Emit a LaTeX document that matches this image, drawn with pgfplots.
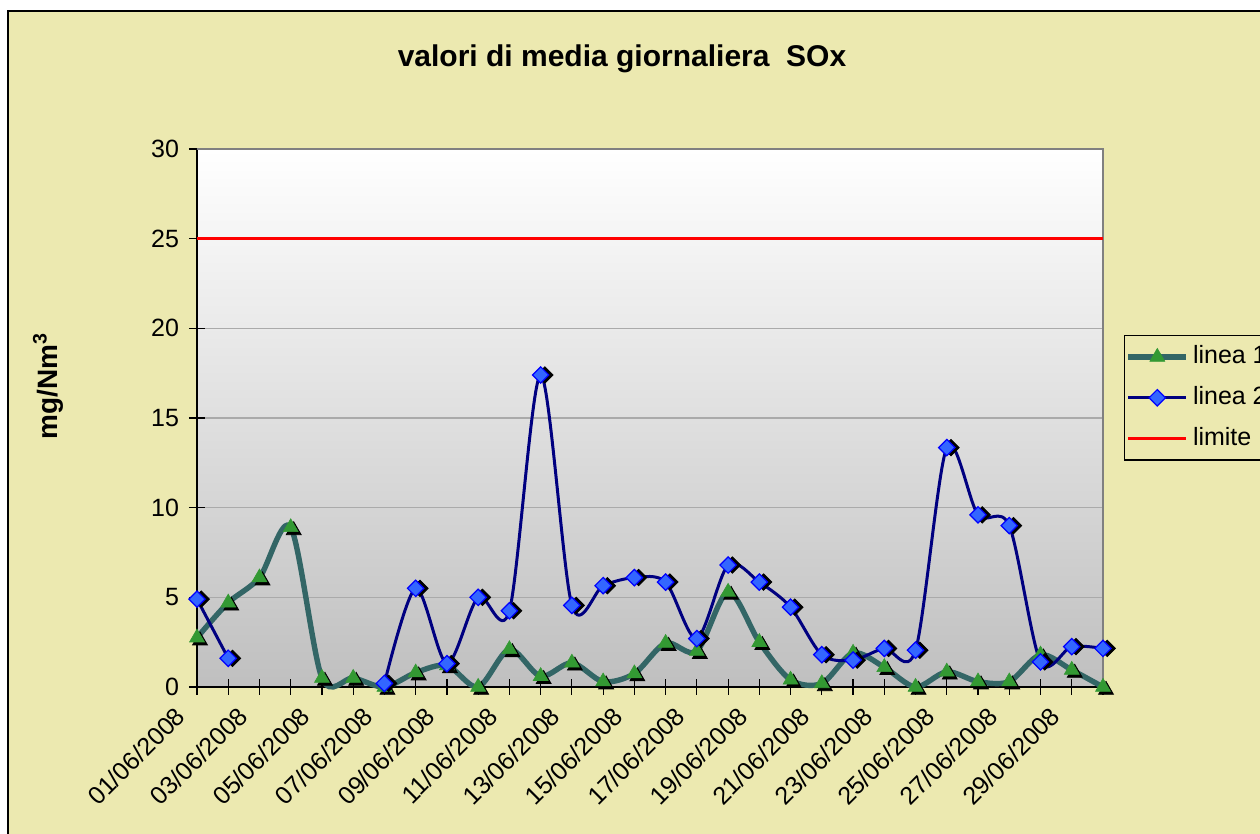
\documentclass[border=0pt]{standalone}
\usepackage{fontspec}
\setmainfont{Liberation Sans}
\usepackage{pgfplots}
\pgfplotsset{compat=1.18}
\definecolor{bgmid}{RGB}{255,255,200}
\definecolor{bgedge}{RGB}{236,233,176}
\definecolor{lineone}{RGB}{51,102,102}
\definecolor{markone}{RGB}{51,153,51}
\definecolor{linetwo}{RGB}{0,0,128}
\definecolor{marktwo}{RGB}{51,102,255}
\definecolor{gridc}{RGB}{170,170,170}
\begin{document}
\begin{tikzpicture}
\useasboundingbox (0,0) rectangle (630pt,417pt);
\clip (0,0) rectangle (630pt,417pt);
\shade[top color=bgedge, middle color=bgmid, bottom color=bgedge] (4pt,-3pt) rectangle (640pt,411.5pt);
\draw[black, line width=0.6pt] (4pt,-3pt) -- (4pt,411.5pt) -- (640pt,411.5pt);
\node[font=\fontsize{15}{18}\selectfont\bfseries] at (311pt,387.5pt) {valori di media giornaliera\ \ SOx};
\node[font=\fontsize{14}{16}\selectfont\bfseries, rotate=90] at (24pt,224pt) {mg/Nm\textsuperscript{3}};
\begin{axis}[
  at={(98.5pt,73.5pt)}, anchor=south west,
  scale only axis, width=453pt, height=269pt,
  xmin=1, xmax=30, ymin=0, ymax=30,
  axis lines=left, axis line style={-, black, line width=0.8pt},
  xtick={1,...,30},
  xticklabels={01/06/2008,,03/06/2008,,05/06/2008,,07/06/2008,,09/06/2008,,11/06/2008,,13/06/2008,,15/06/2008,,17/06/2008,,19/06/2008,,21/06/2008,,23/06/2008,,25/06/2008,,27/06/2008,,29/06/2008,},
  ytick={0,5,...,30},
  tick align=center, major tick length=8pt,
  tick style={black, line width=0.6pt},
  ymajorgrids, major grid style={gridc, line width=0.8pt},
  /pgf/number format/assume math mode=true,
  ticklabel style={font=\fontsize{12.5}{14}\selectfont},
  yticklabel style={xshift=-1.5pt},
  xticklabel style={xshift=-11.5pt, yshift=-3.5pt, rotate=45, anchor=north east, inner sep=1pt},
  axis background/.style={top color=white, bottom color=black!25},
  clip=false,
  unbounded coords=jump,
  legend style={at={(1.0232,0.6543)}, anchor=north west, draw=black, line width=0.6pt, fill=none,
    inner sep=0.5pt,
    font=\fontsize{12.5}{15}\selectfont,
    nodes={text height=8.8pt, text depth=2pt, inner ysep=4.8pt}},
  legend cell align=left,
  legend image code/.code={\draw[mark repeat=2,mark phase=2,#1] plot coordinates {(0pt,0pt) (14.5pt,0pt) (29pt,0pt)};},
]
\draw[gray, line width=0.8pt] (rel axis cs:0,1) -- (rel axis cs:1,1) -- (rel axis cs:1,0);
\addlegendimage{lineone, line width=2.7pt, mark=triangle*, mark size=4.3pt, mark options={fill=markone, draw=markone, line width=0.3pt}}
\addlegendentry{linea 1}
\addlegendimage{linetwo, line width=1.5pt, mark=square*, mark size=2.9pt, mark options={rotate=45, fill=marktwo, draw=blue, line width=0.6pt}}
\addlegendentry{linea 2}
\addlegendimage{red, line width=1.8pt}
\addlegendentry{limite}
% limit
\addplot[red, line width=1.8pt, forget plot] coordinates {(1,25) (30,25)};
% series 1
\addplot[lineone, line width=2.7pt, smooth, tension=0.5, forget plot] coordinates {
(1,2.75) (2,4.7) (3,6.1) (4,8.9) (5,0.5) (6,0.5) (7,0.0) (8,0.8) (9,1.2) (10,0.0)
(11,2.1) (12,0.6) (13,1.35) (14,0.3) (15,0.75) (16,2.45) (17,2.0) (18,5.3) (19,2.5) (20,0.4)
(21,0.2) (22,1.9) (23,1.1) (24,0.0) (25,0.85) (26,0.3) (27,0.3) (28,1.8) (29,0.95) (30,0.0)};
\addplot[only marks, mark=triangle*, mark size=4.3pt, mark options={fill=black, draw=black, xshift=1.5pt, yshift=-1.5pt}, forget plot] coordinates {
(1,2.75) (2,4.7) (3,6.1) (4,8.9) (5,0.5) (6,0.5) (7,0.0) (8,0.8) (9,1.2) (10,0.0)
(11,2.1) (12,0.6) (13,1.35) (14,0.3) (15,0.75) (16,2.45) (17,2.0) (18,5.3) (19,2.5) (20,0.4)
(21,0.2) (22,1.9) (23,1.1) (24,0.0) (25,0.85) (26,0.3) (27,0.3) (28,1.8) (29,0.95) (30,0.0)};
\addplot[only marks, mark=triangle*, mark size=4.3pt, mark options={fill=markone, draw=markone, line width=0.3pt}, forget plot] coordinates {
(1,2.75) (2,4.7) (3,6.1) (4,8.9) (5,0.5) (6,0.5) (7,0.0) (8,0.8) (9,1.2) (10,0.0)
(11,2.1) (12,0.6) (13,1.35) (14,0.3) (15,0.75) (16,2.45) (17,2.0) (18,5.3) (19,2.5) (20,0.4)
(21,0.2) (22,1.9) (23,1.1) (24,0.0) (25,0.85) (26,0.3) (27,0.3) (28,1.8) (29,0.95) (30,0.0)};
% series 2
\addplot[linetwo, line width=1.5pt, smooth, tension=0.5, forget plot] coordinates {
(1,4.9) (2,1.6) (3,nan) (4,nan) (5,nan) (6,nan) (7,0.2) (8,5.5) (9,1.3) (10,5.0)
(11,4.25) (12,17.4) (13,4.55) (14,5.65) (15,6.1) (16,5.85) (17,2.7) (18,6.8) (19,5.85) (20,4.45)
(21,1.8) (22,1.5) (23,2.15) (24,2.05) (25,13.35) (26,9.6) (27,9.0) (28,1.4) (29,2.25) (30,2.15)};
\addplot[only marks, mark=square*, mark size=2.9pt, mark options={rotate=45, fill=black, draw=black, xshift=1.5pt, yshift=-1.5pt}, forget plot] coordinates {
(1,4.9) (2,1.6) (7,0.2) (8,5.5) (9,1.3) (10,5.0)
(11,4.25) (12,17.4) (13,4.55) (14,5.65) (15,6.1) (16,5.85) (17,2.7) (18,6.8) (19,5.85) (20,4.45)
(21,1.8) (22,1.5) (23,2.15) (24,2.05) (25,13.35) (26,9.6) (27,9.0) (28,1.4) (29,2.25) (30,2.15)};
\addplot[only marks, mark=square*, mark size=2.9pt, mark options={rotate=45, fill=marktwo, draw=blue, line width=0.6pt}, forget plot] coordinates {
(1,4.9) (2,1.6) (7,0.2) (8,5.5) (9,1.3) (10,5.0)
(11,4.25) (12,17.4) (13,4.55) (14,5.65) (15,6.1) (16,5.85) (17,2.7) (18,6.8) (19,5.85) (20,4.45)
(21,1.8) (22,1.5) (23,2.15) (24,2.05) (25,13.35) (26,9.6) (27,9.0) (28,1.4) (29,2.25) (30,2.15)};
\end{axis}
\end{tikzpicture}
\end{document}
